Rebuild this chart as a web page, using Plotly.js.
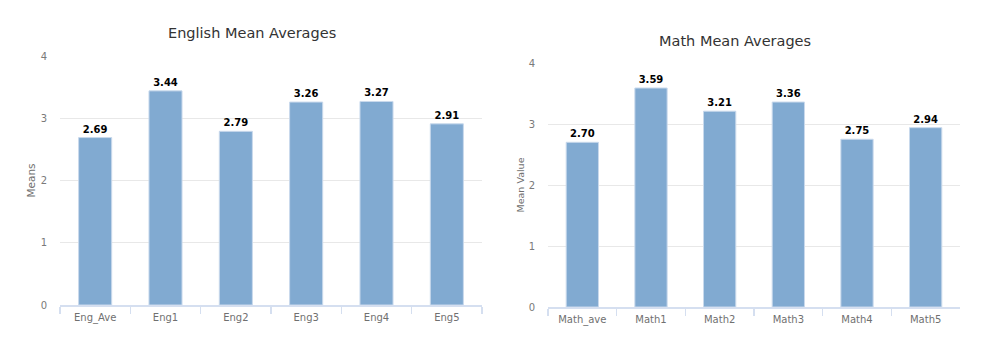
<!DOCTYPE html>
<html><head><meta charset="utf-8">
<script src="https://cdn.plot.ly/plotly-3.0.1.min.js"></script>
<style>body{margin:0;padding:0;background:#fff}#c{width:997px;height:353px}</style>
</head><body><div id="c"></div>
<script>
const engCategories = ["Eng_Ave","Eng1","Eng2","Eng3","Eng4","Eng5"];
const engMeans = [2.69,3.44,2.79,3.26,3.27,2.91];
const mathCategories = ["Math_ave","Math1","Math2","Math3","Math4","Math5"];
const mathMeans = [2.70,3.59,3.21,3.36,2.75,2.94];
const yTicks = [0,1,2,3,4];

const W=997,H=353;
const font = "DejaVu Sans, Verdana, sans-serif";
const barColor = "#81aad1";
function bar(x,y,xa,ya){
  return {type:"bar",x:x,y:y,xaxis:xa,yaxis:ya,width:0.47,
    marker:{color:barColor,line:{color:"#c9d9ec",width:1}},
    texttemplate:"%{y:.2f}",textposition:"outside",cliponaxis:false,
    textfont:{family:font,size:10,color:"#000",weight:"bold"},hoverinfo:"none"};
}
function xax(dom){
  return {domain:dom,type:"category",showline:true,linecolor:"#d5dff0",linewidth:1.5,
    ticks:"outside",tickson:"boundaries",ticklen:7,tickcolor:"#d5dff0",tickwidth:1.5,
    ticklabelstandoff:2,
    tickfont:{family:font,size:10,color:"#707070"},showgrid:false,zeroline:false,fixedrange:true};
}
function yax(dom,title,standoff,tsize){
  return {domain:dom,range:[0,4],tickvals:yTicks,showgrid:true,gridcolor:"#e8e8e8",gridwidth:1,
    zeroline:false,showline:false,ticks:"",ticklabelstandoff:12,
    tickfont:{family:font,size:10,color:"#7a7a7a"},
    title:{text:title,standoff:standoff,font:{family:font,size:tsize,color:"#707070"}}};
}
const layout = {
  width:W,height:H,margin:{l:0,r:0,t:0,b:0},showlegend:false,
  paper_bgcolor:"#fff",plot_bgcolor:"#fff",bargap:0.5,
  xaxis:xax([60/W,482/W]),
  yaxis:yax([(H-305)/H,(H-56)/H],"Means",2,10.5),
  xaxis2:xax([548/W,960/W]),
  yaxis2:yax([(H-307)/H,(H-63)/H],"Mean Value",2,9.5),
  annotations:[
    {text:"English Mean Averages",xref:"paper",yref:"paper",x:252/W,y:(H-33)/H,xanchor:"center",yanchor:"middle",showarrow:false,font:{family:font,size:14.5,color:"#333"}},
    {text:"Math Mean Averages",xref:"paper",yref:"paper",x:735/W,y:(H-41)/H,xanchor:"center",yanchor:"middle",showarrow:false,font:{family:font,size:14.5,color:"#333"}}
  ]
};
layout.yaxis2.anchor="x2"; layout.xaxis2.anchor="y2";
Plotly.newPlot("c",[bar(engCategories,engMeans,"x","y"),bar(mathCategories,mathMeans,"x2","y2")],layout,{displayModeBar:false,staticPlot:true});
</script></body></html>
